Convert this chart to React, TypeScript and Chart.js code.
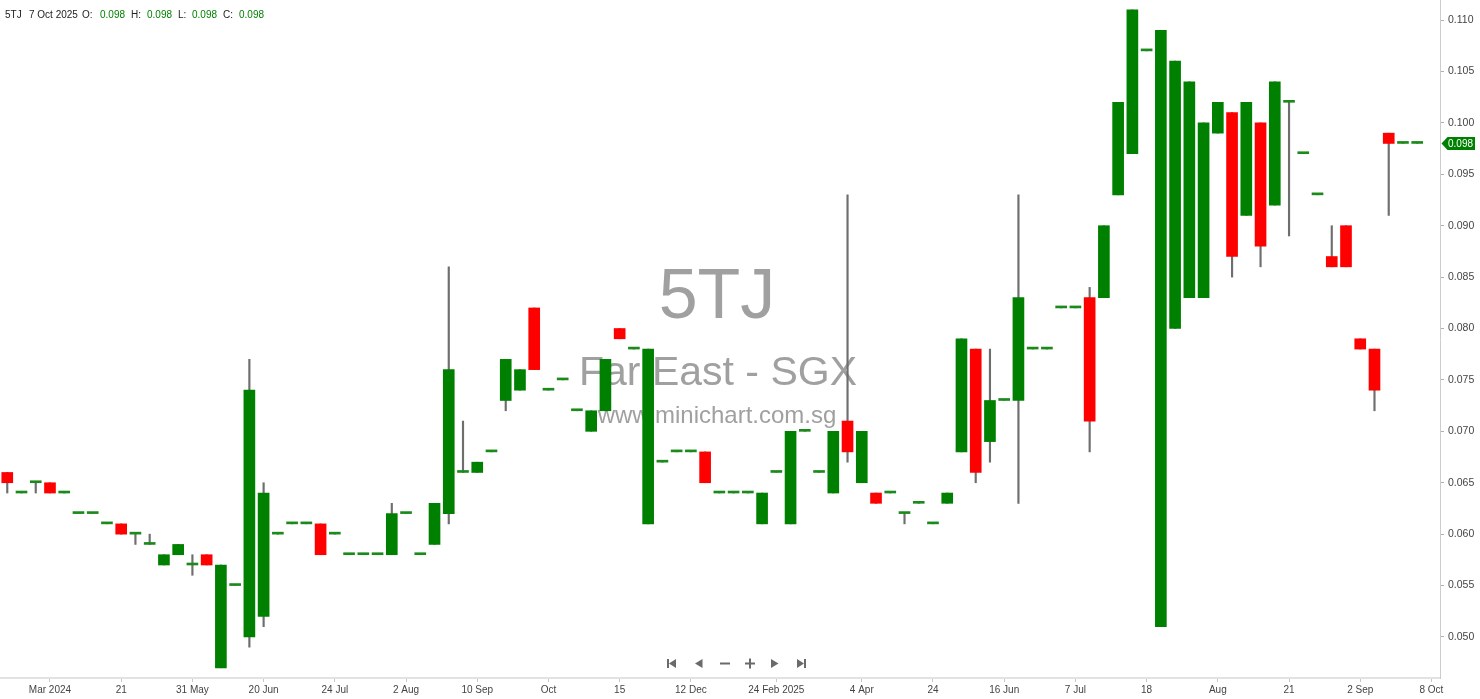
import React, { useEffect, useRef } from "react";
import { Chart, registerables } from "chart.js";

Chart.register(...registerables);

// Weekly OHLC values, oldest first (index 0 .. 99)
const opens = [
  0.066, 0.064, 0.065, 0.065, 0.064, 0.062, 0.062, 0.061, 0.061, 0.060,
  0.059, 0.057, 0.058, 0.057, 0.058, 0.047, 0.055, 0.050, 0.052, 0.060,
  0.061, 0.061, 0.061, 0.060, 0.058, 0.058, 0.058, 0.058, 0.062, 0.058,
  0.059, 0.062, 0.066, 0.066, 0.068, 0.073, 0.074, 0.082, 0.074, 0.075,
  0.072, 0.070, 0.072, 0.080, 0.078, 0.061, 0.067, 0.068, 0.068, 0.068,
  0.064, 0.064, 0.064, 0.061, 0.066, 0.061, 0.070, 0.066, 0.064, 0.071,
  0.065, 0.064, 0.064, 0.062, 0.063, 0.061, 0.063, 0.068, 0.078, 0.069,
  0.073, 0.073, 0.078, 0.078, 0.082, 0.082, 0.083, 0.083, 0.093, 0.097,
  0.107, 0.051, 0.080, 0.083, 0.083, 0.099, 0.101, 0.091, 0.100, 0.092,
  0.102, 0.097, 0.093, 0.087, 0.090, 0.079, 0.078, 0.099, 0.098, 0.098,
];
const highs = [
  0.066, 0.064, 0.065, 0.065, 0.064, 0.062, 0.062, 0.061, 0.061, 0.060,
  0.060, 0.058, 0.059, 0.058, 0.058, 0.057, 0.055, 0.077, 0.065, 0.060,
  0.061, 0.061, 0.061, 0.060, 0.058, 0.058, 0.058, 0.063, 0.062, 0.058,
  0.063, 0.086, 0.071, 0.067, 0.068, 0.077, 0.076, 0.082, 0.074, 0.075,
  0.072, 0.072, 0.077, 0.080, 0.078, 0.078, 0.067, 0.068, 0.068, 0.068,
  0.064, 0.064, 0.064, 0.064, 0.066, 0.070, 0.070, 0.066, 0.070, 0.093,
  0.070, 0.064, 0.064, 0.062, 0.063, 0.061, 0.064, 0.079, 0.078, 0.078,
  0.073, 0.093, 0.078, 0.078, 0.082, 0.082, 0.084, 0.090, 0.102, 0.111,
  0.107, 0.109, 0.106, 0.104, 0.100, 0.102, 0.101, 0.102, 0.100, 0.104,
  0.102, 0.097, 0.093, 0.090, 0.090, 0.079, 0.078, 0.099, 0.098, 0.098,
];
const lows = [
  0.064, 0.064, 0.064, 0.064, 0.064, 0.062, 0.062, 0.061, 0.060, 0.059,
  0.059, 0.057, 0.058, 0.056, 0.057, 0.047, 0.055, 0.049, 0.051, 0.060,
  0.061, 0.061, 0.058, 0.060, 0.058, 0.058, 0.058, 0.058, 0.062, 0.058,
  0.059, 0.061, 0.066, 0.066, 0.068, 0.072, 0.074, 0.076, 0.074, 0.075,
  0.072, 0.070, 0.072, 0.079, 0.078, 0.061, 0.067, 0.068, 0.068, 0.065,
  0.064, 0.064, 0.064, 0.061, 0.066, 0.061, 0.070, 0.066, 0.064, 0.067,
  0.065, 0.063, 0.064, 0.061, 0.063, 0.061, 0.063, 0.068, 0.065, 0.067,
  0.073, 0.063, 0.078, 0.078, 0.082, 0.082, 0.068, 0.083, 0.093, 0.097,
  0.107, 0.051, 0.080, 0.083, 0.083, 0.099, 0.085, 0.091, 0.086, 0.092,
  0.089, 0.097, 0.093, 0.086, 0.086, 0.078, 0.072, 0.091, 0.098, 0.098,
];
const closes = [
  0.065, 0.064, 0.065, 0.064, 0.064, 0.062, 0.062, 0.061, 0.060, 0.060,
  0.059, 0.058, 0.059, 0.057, 0.057, 0.057, 0.055, 0.074, 0.064, 0.060,
  0.061, 0.061, 0.058, 0.060, 0.058, 0.058, 0.058, 0.062, 0.062, 0.058,
  0.063, 0.076, 0.066, 0.067, 0.068, 0.077, 0.076, 0.076, 0.074, 0.075,
  0.072, 0.072, 0.077, 0.079, 0.078, 0.078, 0.067, 0.068, 0.068, 0.065,
  0.064, 0.064, 0.064, 0.064, 0.066, 0.070, 0.070, 0.066, 0.070, 0.068,
  0.070, 0.063, 0.064, 0.062, 0.063, 0.061, 0.064, 0.079, 0.066, 0.073,
  0.073, 0.083, 0.078, 0.078, 0.082, 0.082, 0.071, 0.090, 0.102, 0.111,
  0.107, 0.109, 0.106, 0.104, 0.100, 0.102, 0.087, 0.102, 0.088, 0.104,
  0.102, 0.097, 0.093, 0.086, 0.086, 0.078, 0.074, 0.098, 0.098, 0.098,
];

const xTickIndex = [3, 8, 13, 18, 23, 28, 33, 38, 43, 48, 54, 60, 65, 70, 75, 80, 85, 90, 95, 100];
const xTickLabels = [
  "Mar 2024", "21", "31 May", "20 Jun", "24 Jul", "2 Aug", "10 Sep", "Oct", "15", "12 Dec",
  "24 Feb 2025", "4 Apr", "24", "16 Jun", "7 Jul", "18", "Aug", "21", "2 Sep", "8 Oct",
];
const yTickValues = [0.05, 0.055, 0.06, 0.065, 0.07, 0.075, 0.08, 0.085, 0.09, 0.095, 0.1, 0.105, 0.11];

const symbol = "5TJ";
const lastDate = "7 Oct 2025";
const watermarkTitle = "5TJ";
const watermarkName = "Far East - SGX";
const watermarkSite = "www.minichart.com.sg";

const GREEN = "#008000";
const RED = "#ff0000";
const DOJI = "#1a8a1a";
const WICK = "#6e6e6e";
const FONT = '"Liberation Sans", Arial, sans-serif';

const watermarkPlugin = {
  id: "watermark",
  beforeDatasetsDraw(chart: any) {
    const ctx = chart.ctx;
    ctx.save();
    ctx.fillStyle = "#a0a0a0";
    ctx.textAlign = "center";
    ctx.textBaseline = "alphabetic";
    ctx.font = `70px ${FONT}`;
    ctx.fillText(watermarkTitle, 717, 318);
    ctx.font = `41px ${FONT}`;
    ctx.fillText(watermarkName, 718, 385);
    ctx.font = `24px ${FONT}`;
    ctx.fillText(watermarkSite, 717, 423);
    ctx.restore();
  },
};

const overlayPlugin = {
  id: "overlay",
  afterDraw(chart: any) {
    const ctx = chart.ctx;
    const n = closes.length - 1;
    ctx.save();
    // header
    ctx.textBaseline = "middle";
    ctx.textAlign = "left";
    ctx.font = `10px ${FONT}`;
    const parts: [string, number, string][] = [
      [symbol, 5, "#222"],
      [lastDate, 29, "#222"],
      ["O:", 82, "#222"],
      [opens[n].toFixed(3), 100, GREEN],
      ["H:", 131, "#222"],
      [highs[n].toFixed(3), 147, GREEN],
      ["L:", 178, "#222"],
      [lows[n].toFixed(3), 192, GREEN],
      ["C:", 223, "#222"],
      [closes[n].toFixed(3), 239, GREEN],
    ];
    parts.forEach(([t, x, c]) => {
      ctx.fillStyle = c;
      ctx.fillText(t, x, 15.5);
    });

    // last price tag
    const y = chart.scales.y.getPixelForValue(closes[n]);
    ctx.fillStyle = closes[n] >= opens[n] ? GREEN : RED;
    ctx.beginPath();
    ctx.moveTo(1441.5, y);
    ctx.lineTo(1447.5, y - 6.5);
    ctx.lineTo(1475, y - 6.5);
    ctx.lineTo(1475, y + 6.5);
    ctx.lineTo(1447.5, y + 6.5);
    ctx.closePath();
    ctx.fill();
    ctx.fillStyle = "#fff";
    ctx.font = `10px ${FONT}`;
    ctx.fillText(closes[n].toFixed(3), 1448, y + 0.5);

    // navigation icons
    ctx.fillStyle = "#6a6a6a";
    const cy = 663.5;
    ctx.fillRect(667, cy - 4.5, 2, 9);
    ctx.beginPath();
    ctx.moveTo(669, cy);
    ctx.lineTo(676, cy - 4.5);
    ctx.lineTo(676, cy + 4.5);
    ctx.closePath();
    ctx.fill();
    ctx.beginPath();
    ctx.moveTo(695, cy);
    ctx.lineTo(702.5, cy - 4.5);
    ctx.lineTo(702.5, cy + 4.5);
    ctx.closePath();
    ctx.fill();
    ctx.fillRect(720, cy - 1, 10, 2);
    ctx.fillRect(745, cy - 1, 10, 2);
    ctx.fillRect(749, cy - 5, 2, 10);
    ctx.beginPath();
    ctx.moveTo(778.5, cy);
    ctx.lineTo(771, cy - 4.5);
    ctx.lineTo(771, cy + 4.5);
    ctx.closePath();
    ctx.fill();
    ctx.beginPath();
    ctx.moveTo(804, cy);
    ctx.lineTo(797, cy - 4.5);
    ctx.lineTo(797, cy + 4.5);
    ctx.closePath();
    ctx.fill();
    ctx.fillRect(804, cy - 4.5, 2, 9);
    ctx.restore();
  },
};

export default function App() {
  const canvasRef = useRef<HTMLCanvasElement | null>(null);

  useEffect(() => {
    if (!canvasRef.current) return;
    const bodies = closes.map((c, i) => ({ x: i, y: [opens[i], c] }));
    const wicks = closes.map((_, i) => ({ x: i, y: [lows[i], highs[i]] }));
    const bodyColors = closes.map((c, i) =>
      c === opens[i] ? DOJI : c > opens[i] ? GREEN : RED
    );

    const chart = new Chart(canvasRef.current, {
      type: "bar",
      data: {
        datasets: [
          {
            data: bodies as any,
            backgroundColor: bodyColors,
            barThickness: 11,
            minBarLength: 2,
            grouped: false,
            order: 0,
          } as any,
          {
            data: wicks as any,
            backgroundColor: WICK,
            barThickness: 1.5,
            minBarLength: 0,
            grouped: false,
            order: 1,
          } as any,
        ],
      },
      options: {
        responsive: false,
        animation: false,
        devicePixelRatio: 1,
        layout: { padding: 0 },
        plugins: {
          legend: { display: false },
          tooltip: { enabled: false },
        },
        scales: {
          x: {
            type: "linear",
            min: -0.51,
            max: 100.6,
            offset: false,
            afterFit: (s: any) => {
              s.height = 21;
              s.paddingLeft = 0;
              s.paddingRight = 0;
            },
            afterBuildTicks: (s: any) => {
              s.ticks = xTickIndex.map((v) => ({ value: v }));
            },
            grid: {
              drawOnChartArea: false,
              offset: false,
              tickLength: 4,
              color: "#c8c8c8",
            },
            border: { color: "#e2e2e2", width: 2 },
            ticks: {
              autoSkip: false,
              maxRotation: 0,
              padding: 2,
              color: "#444",
              font: { family: FONT, size: 10 },
              callback: (v: any) => {
                const k = xTickIndex.indexOf(Number(v));
                return k >= 0 ? xTickLabels[k] : "";
              },
            },
          },
          y: {
            type: "linear",
            position: "right",
            min: 0.04601,
            max: 0.11195,
            afterFit: (s: any) => {
              s.width = 40;
              s.paddingTop = 0;
              s.paddingBottom = 0;
            },
            afterBuildTicks: (s: any) => {
              s.ticks = yTickValues.map((v) => ({ value: v }));
            },
            grid: {
              drawOnChartArea: false,
              tickLength: 4,
              color: "#b0b0b0",
            },
            border: { color: "#cccccc", width: 1 },
            ticks: {
              padding: 4,
              color: "#444",
              font: { family: FONT, size: 10.5 },
              callback: (v: any) => Number(v).toFixed(3),
            },
          },
        },
      },
      plugins: [watermarkPlugin, overlayPlugin],
    });
    return () => chart.destroy();
  }, []);

  return (
    <div style={{ position: "fixed", left: 0, top: 0, width: 1480, height: 699, background: "#fff" }}>
      <canvas ref={canvasRef} width={1480} height={699} style={{ display: "block" }} />
    </div>
  );
}
